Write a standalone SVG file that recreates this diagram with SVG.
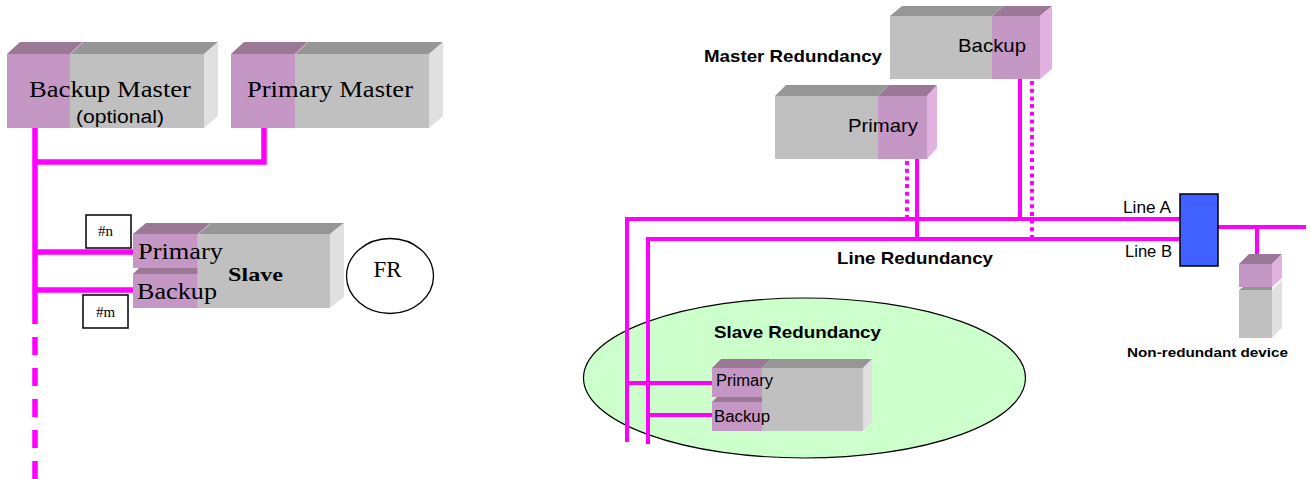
<svg xmlns="http://www.w3.org/2000/svg" width="1310" height="479" viewBox="0 0 1310 479">
<defs>
<style>
.pf{fill:#c497c4}
.pt{fill:#9a7896}
.ps{fill:#e2b2e0}
.gf{fill:#c0c0c0}
.gt{fill:#969696}
.gs{fill:#e0e0e0}
.ln{stroke:#ff00ff;fill:none}
.l5{stroke-width:5.5}
.l4{stroke-width:4}
.dot{stroke-dasharray:4 3.7}
.serif{font-family:"Liberation Serif","Times New Roman",serif;fill:#000}
.sans{font-family:"Liberation Sans",Arial,sans-serif;fill:#000}
.b{font-weight:bold}
.box{fill:#fff;stroke:#000;stroke-width:1.5}
</style>
</defs>
<rect width="1310" height="479" fill="#fff"/>

<g id="slave-redundancy-zone">
<ellipse cx="804.5" cy="378" rx="221" ry="80" fill="#ccffcc" stroke="#000" stroke-width="1.2"/>
<text class="sans b" x="714" y="338" font-size="17" textLength="167" lengthAdjust="spacingAndGlyphs">Slave Redundancy</text>
</g>

<g id="connectors">
<path class="ln l5" d="M35,128 V324 M35,162 H264 V128 M35,252 H133 M35,290 H133"/>
<path class="ln l5" d="M35,337 V479" stroke-dasharray="18 13"/>
<path class="ln l4" d="M627,442 V219 H1180 M648,444 V239 H1180"/>
<path class="ln l4" d="M917,159 V239 M1020,79 V219"/>
<path class="ln l4 dot" d="M907,161 V217 M1032,81 V238"/>
<path class="ln l4" d="M1218,227 H1306 M1257,227 V257"/>
<path class="ln l4" d="M627,383 H712 M648,415 H712"/>
</g>

<g id="backup-master">
<polygon class="pt" points="7,54 20,42 83,42 70,54"/>
<polygon class="gt" points="70,54 83,42 218,42 204,54"/>
<rect class="pf" x="7" y="54" width="63" height="74"/>
<rect class="gf" x="70" y="54" width="134" height="74"/>
<polygon class="gs" points="204,54 218,42 218,116 204,128"/>
<line x1="70" y1="54" x2="83" y2="42" stroke="#e2b2e0" stroke-width="1"/>
<text class="serif" x="29" y="97" font-size="24" textLength="162" lengthAdjust="spacingAndGlyphs">Backup Master</text>
<text class="sans" x="76" y="123" font-size="18" textLength="88" lengthAdjust="spacingAndGlyphs">(optional)</text>
</g>

<g id="primary-master">
<polygon class="pt" points="231,54 244,42 308,42 295,54"/>
<polygon class="gt" points="295,54 308,42 443,42 429,54"/>
<rect class="pf" x="231" y="54" width="64" height="74"/>
<rect class="gf" x="295" y="54" width="134" height="74"/>
<polygon class="gs" points="429,54 443,42 443,116 429,128"/>
<line x1="295" y1="54" x2="308" y2="42" stroke="#e2b2e0" stroke-width="1"/>
<text class="serif" x="247" y="97" font-size="24" textLength="166" lengthAdjust="spacingAndGlyphs">Primary Master</text>
</g>

<g id="slave-left">
<polygon class="pt" points="133,234 146,223 211,223 198,234"/>
<polygon class="gt" points="198,234 211,223 344,223 330,234"/>
<rect class="pf" x="133" y="234" width="65" height="34"/>
<polygon class="pt" points="133,274 139,268 198,268 198,274"/>
<rect class="pf" x="133" y="274" width="65" height="34"/>
<rect class="gf" x="198" y="234" width="132" height="74"/>
<polygon class="gs" points="330,234 344,223 344,297 330,308"/>
<line x1="198" y1="234" x2="211" y2="223" stroke="#e2b2e0" stroke-width="1"/>
<line x1="198" y1="234" x2="198" y2="308" stroke="#e2b2e0" stroke-width="1"/>
<text class="serif" x="138" y="259" font-size="24" textLength="85" lengthAdjust="spacingAndGlyphs">Primary</text>
<text class="serif" x="137" y="299" font-size="24" textLength="80" lengthAdjust="spacingAndGlyphs">Backup</text>
<text class="serif b" x="228" y="281" font-size="19" textLength="55" lengthAdjust="spacingAndGlyphs">Slave</text>
</g>

<g id="label-n">
<rect class="box" x="86" y="215" width="45" height="33"/>
<text class="serif" x="105.5" y="236" font-size="15" text-anchor="middle">#n</text>
</g>

<g id="label-m">
<rect class="box" x="83" y="295" width="45" height="33"/>
<text class="serif" x="105.5" y="317" font-size="15" text-anchor="middle">#m</text>
</g>

<g id="fr">
<ellipse cx="390" cy="276" rx="43.5" ry="37.5" fill="#fff" stroke="#000" stroke-width="1.3"/>
<text class="serif" x="387.5" y="277" font-size="23" text-anchor="middle">FR</text>
</g>

<g id="master-redundancy-label">
<text class="sans b" x="704" y="62" font-size="17" textLength="178" lengthAdjust="spacingAndGlyphs">Master Redundancy</text>
</g>

<g id="backup-right">
<polygon class="gt" points="890,16 902,6 1004,6 992,16"/>
<polygon class="pt" points="992,16 1004,6 1052,6 1040,16"/>
<rect class="gf" x="890" y="16" width="102" height="63"/>
<rect class="pf" x="992" y="16" width="48" height="63"/>
<polygon class="ps" points="1040,16 1052,6 1052,69 1040,79"/>
<text class="sans" x="958" y="52" font-size="19" textLength="68" lengthAdjust="spacingAndGlyphs">Backup</text>
</g>

<g id="primary-right">
<polygon class="gt" points="775,96 786,85 889,85 878,96"/>
<polygon class="pt" points="878,96 889,85 937,85 927,96"/>
<rect class="gf" x="775" y="96" width="103" height="63"/>
<rect class="pf" x="878" y="96" width="49" height="63"/>
<polygon class="ps" points="927,96 937,85 937,148 927,159"/>
<text class="sans" x="848" y="132" font-size="19" textLength="70" lengthAdjust="spacingAndGlyphs">Primary</text>
</g>

<g id="line-labels">
<text class="sans" x="1123" y="213" font-size="16" textLength="48" lengthAdjust="spacingAndGlyphs">Line A</text>
<text class="sans" x="1125" y="257" font-size="16" textLength="47" lengthAdjust="spacingAndGlyphs">Line B</text>
<text class="sans b" x="837" y="264" font-size="17" textLength="156" lengthAdjust="spacingAndGlyphs">Line Redundancy</text>
</g>

<g id="switch">
<rect x="1180" y="194" width="38" height="72" fill="#4060ff" stroke="#000" stroke-width="1.5"/>
</g>

<g id="non-redundant-device">
<polygon class="pt" points="1239,264 1249,254 1282,254 1272,264"/>
<rect class="pf" x="1239" y="264" width="33" height="23"/>
<polygon class="ps" points="1272,264 1282,254 1282,278 1272,287"/>
<polygon class="gt" points="1239,290 1243,287 1272,287 1272,290"/>
<rect class="gf" x="1239" y="290" width="33" height="48"/>
<polygon class="gs" points="1272,290 1282,280 1282,328 1272,338"/>
<text class="sans b" x="1127" y="357" font-size="13" textLength="161" lengthAdjust="spacingAndGlyphs">Non-redundant device</text>
</g>

<g id="slave-right">
<polygon class="pt" points="712,368 721,359 771,359 762,368"/>
<polygon class="gt" points="762,368 771,359 872,359 863,368"/>
<rect class="pf" x="712" y="368" width="50" height="29"/>
<polygon class="pt" points="712,402 717,397 762,397 762,402"/>
<rect class="pf" x="712" y="402" width="50" height="29"/>
<rect class="gf" x="762" y="368" width="101" height="63"/>
<polygon class="gs" points="863,368 872,359 872,422 863,431"/>
<text class="sans" x="716" y="386" font-size="16" textLength="57" lengthAdjust="spacingAndGlyphs">Primary</text>
<text class="sans" x="714" y="422" font-size="16" textLength="56" lengthAdjust="spacingAndGlyphs">Backup</text>
</g>
</svg>
